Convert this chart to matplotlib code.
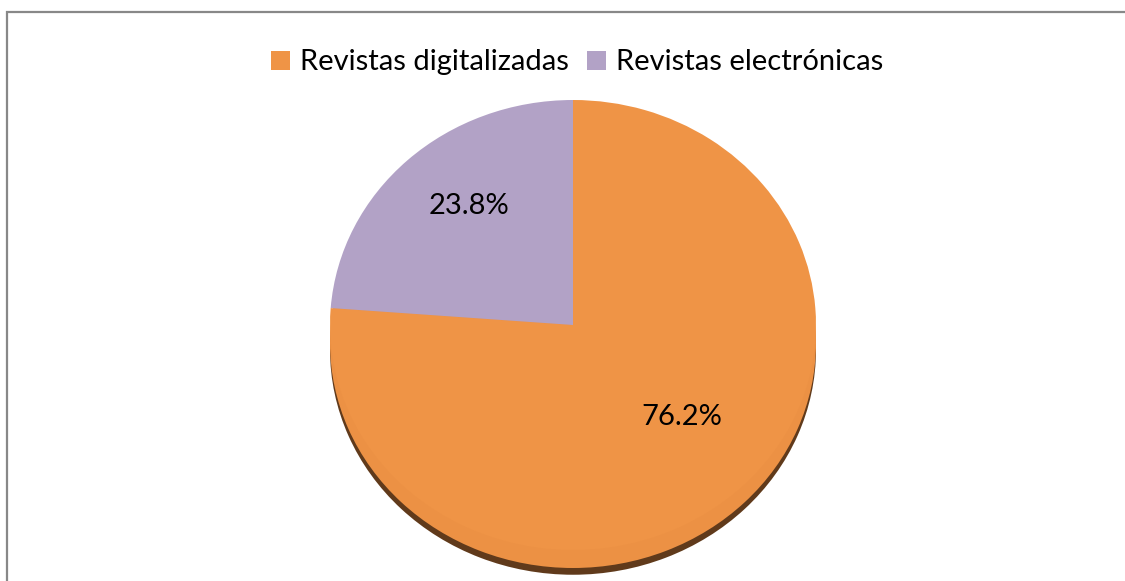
import matplotlib
matplotlib.use("Agg")
import numpy as np
import matplotlib.pyplot as plt
from matplotlib.patches import Rectangle

# data
labels = ["Revistas digitalizadas", "Revistas electrónicas"]
values = [76.2, 23.8]
colors = ["#EF9446", "#B2A2C6"]

plt.rcParams['font.family'] = ['Lato', 'DejaVu Sans']

W, H = 1125, 581
fig = plt.figure(figsize=(W / 100, H / 100), dpi=100)
ax = fig.add_axes([0, 0, 1, 1])

# pie centre in pixels and radii (top surface is a slightly flattened ellipse)
cx, cy = 573, 325
rx, ry = 243, 225

# dark edge and side of the tilted pie
ax.pie([sum(values)], colors=["#603A1B"], center=(0, -0.11), radius=1,
       frame=True, wedgeprops=dict(linewidth=0))
ax.pie([sum(values)], colors=["#EC9144"], center=(0, -0.08), radius=1,
       frame=True, wedgeprops=dict(linewidth=0))

wedges, texts, autotexts = ax.pie(
    values, colors=colors, startangle=90, counterclock=False,
    radius=1, frame=True, autopct='%.1f%%', pctdistance=0.66,
    wedgeprops=dict(linewidth=0),
    textprops=dict(fontsize=21, color='black'))

# excel puts its labels a bit off the mid-radius
for w, t, (fx, fy) in zip(wedges, autotexts, [(0.66, 0.56), (0.63, 0.72)]):
    ang = np.deg2rad((w.theta1 + w.theta2) / 2)
    t.set_position((fx * np.cos(ang), fy * np.sin(ang)))

ax.set_aspect('auto')
ax.set_xlim(-cx / rx, (W - cx) / rx)
ax.set_ylim(-(H - cy) / ry, cy / ry)
ax.axis('off')

fig.legend(wedges, labels, loc='upper center', bbox_to_anchor=(0.513, 0.96),
           ncol=2, frameon=False, fontsize=21, handlelength=0.65,
           handleheight=0.65, handletextpad=0.35, columnspacing=0.6)

# chart area border (runs off the right and bottom of the image)
fig.patches.append(Rectangle((6.5 / W, -0.1), 1.2, (H - 12.5) / H + 0.1,
                             transform=fig.transFigure, fill=False,
                             edgecolor="#888888", linewidth=1.6))

fig.savefig("out.png", dpi=100)
